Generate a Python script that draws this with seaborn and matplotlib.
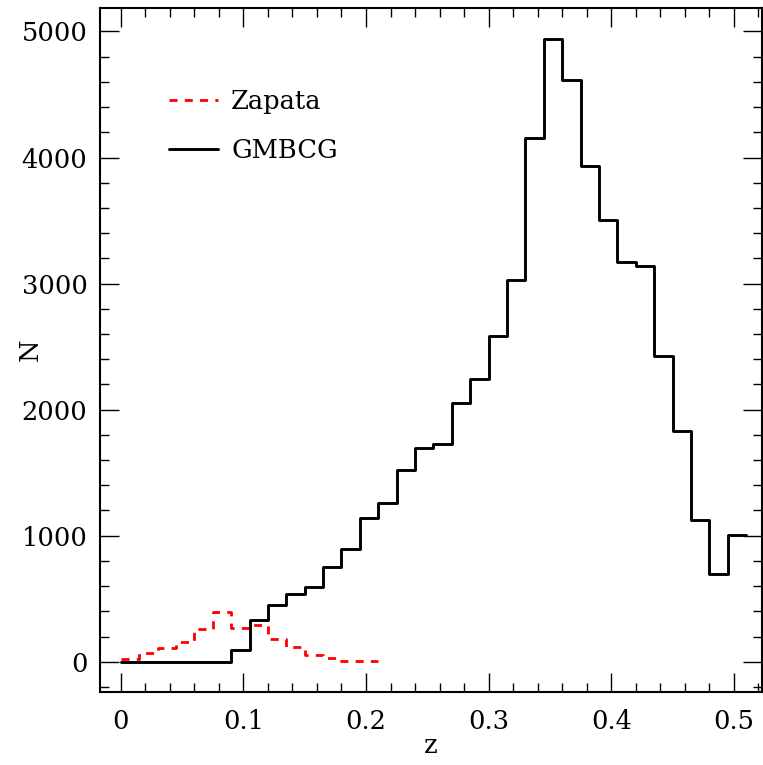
import numpy as np
import pandas as pd
import matplotlib
matplotlib.use("Agg")
import matplotlib.pyplot as plt
from matplotlib.ticker import MultipleLocator
import seaborn as sns

# Redshift histograms, bin width 0.015 starting at z = 0
bin_width = 0.015

gmbcg_counts = [0, 0, 0, 0, 0, 0, 93, 331, 450, 537, 590, 748, 897, 1138,
                1262, 1521, 1692, 1727, 2051, 2246, 2585, 3029, 4153, 4942,
                4614, 3931, 3506, 3175, 3140, 2424, 1831, 1125, 696, 1006]

zapata_counts = [19, 67, 106, 159, 257, 392, 265, 291, 180, 119, 53, 27, 8, 4]

series_names = ["Zapata", "GMBCG"]
x_ticks = [0, 0.1, 0.2, 0.3, 0.4, 0.5]
y_ticks = [0, 1000, 2000, 3000, 4000, 5000]


def to_frame(counts, name):
    edges = np.arange(len(counts) + 1) * bin_width
    centers = 0.5 * (edges[:-1] + edges[1:])
    return pd.DataFrame({"z": centers, "N": counts, "sample": name}), list(edges)


sns.set_theme(style="ticks")
plt.rcParams["font.family"] = ["DejaVu Serif"]
plt.rcParams["text.color"] = "black"
plt.rcParams["axes.labelcolor"] = "black"

fig = plt.figure(figsize=(7.63, 7.65), dpi=100)
ax = fig.add_axes([0.131, 0.0954, 0.8677, 0.8941])

zap_df, zap_edges = to_frame(zapata_counts, series_names[0])
gm_df, gm_edges = to_frame(gmbcg_counts, series_names[1])

sns.histplot(data=zap_df, x="z", weights="N", bins=zap_edges, element="step",
             fill=False, color="red", linewidth=2.0, ax=ax,
             linestyle=(0, (2.9, 2.6)), label=series_names[0])
sns.histplot(data=gm_df, x="z", weights="N", bins=gm_edges, element="step",
             fill=False, color="black", linewidth=2.1, ax=ax,
             label=series_names[1])

ax.set_xlim(-0.017, 0.523)
ax.set_ylim(-240, 5186)
ax.set_xticks(x_ticks)
ax.set_xticklabels([f"{t:g}" for t in x_ticks])
ax.set_yticks(y_ticks)
ax.set_yticklabels([str(t) for t in y_ticks])
ax.xaxis.set_minor_locator(MultipleLocator(0.02))
ax.yaxis.set_minor_locator(MultipleLocator(200))

ax.tick_params(which="both", direction="in", top=True, right=True,
               labelsize=18.5, width=1.0, color="black", labelcolor="black")
ax.tick_params(which="major", length=13.5)
ax.tick_params(axis="x", which="major", pad=12)
ax.tick_params(axis="y", which="major", pad=9)
ax.tick_params(which="minor", length=6.8)
for side in ax.spines.values():
    side.set_linewidth(1.5)
    side.set_color("black")

ax.set_xlabel("z", fontsize=18.5)
ax.set_ylabel("N", fontsize=18.5)
ax.xaxis.set_label_coords(0.5, -0.06)
ax.yaxis.set_label_coords(-0.106, 0.5)
ax.yaxis.label.set_verticalalignment("center")

leg = ax.legend(loc="upper left", bbox_to_anchor=(0.105, 0.882), frameon=False,
                fontsize=18.5, handlelength=1.9, handletextpad=0.5,
                labelspacing=0.95, borderaxespad=0, borderpad=0)
for txt in leg.get_texts():
    txt.set_color("black")

fig.savefig("out.png", dpi=100)
